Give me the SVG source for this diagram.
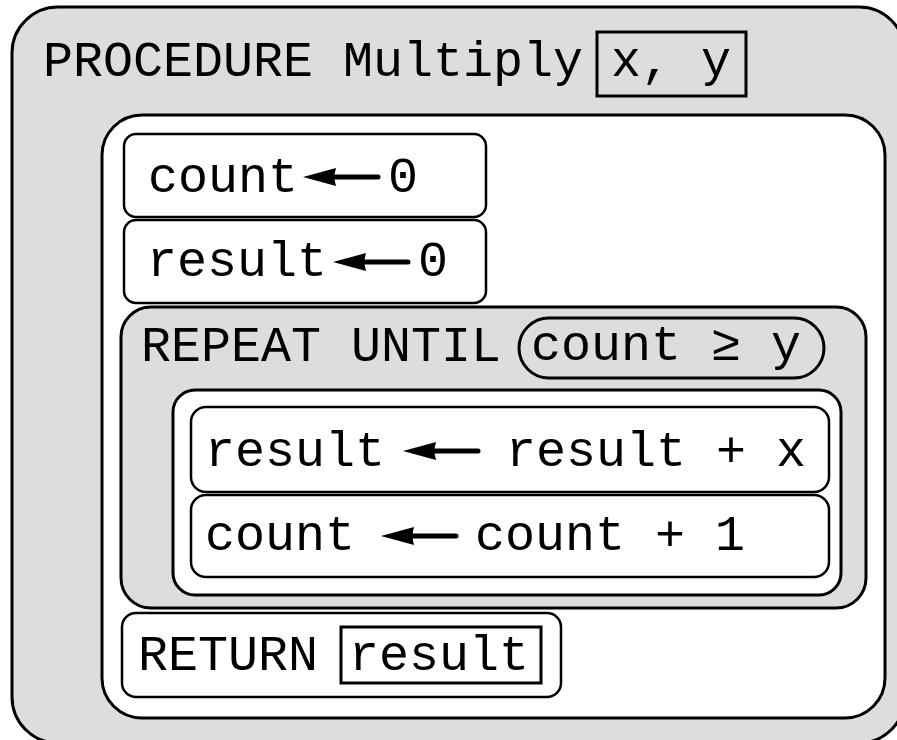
<svg xmlns="http://www.w3.org/2000/svg" width="897" height="740" viewBox="0 0 897 740">
<style>
.g{fill:#dddddd;stroke:#000;stroke-width:3}
.w{fill:#fff;stroke:#000;stroke-width:3}
.s{fill:#fff;stroke:#000;stroke-width:2.5}
.b{fill:none;stroke:#000;stroke-width:3}
text{font-family:"Liberation Mono","DejaVu Sans Mono",monospace;font-size:50px;fill:#000}
.sh{stroke:#000;stroke-width:5;stroke-linecap:round;fill:none}
</style>
<defs>
<g id="arr">
<line class="sh" x1="28" y1="0" x2="75" y2="0"/>
<polygon points="0,0 33,-9 31,0 33,9" fill="#000"/>
</g>
</defs>
<g id="procedure">
<rect class="g" x="12" y="7" width="893" height="736" rx="46"/>
<text x="43" y="76">PROCEDURE Multiply</text>
<rect class="b" x="597" y="32" width="149" height="64"/>
<text x="611" y="76">x, y</text>
</g>
<g id="body">
<rect class="w" x="102" y="115" width="783" height="603" rx="40"/>
</g>
<g id="assign-count">
<rect class="s" x="124" y="134" width="362" height="83" rx="12"/>
<text x="148" y="192">count</text>
<use href="#arr" x="303" y="177"/>
<text x="388" y="192">0</text>
</g>
<g id="assign-result">
<rect class="s" x="124" y="220" width="362" height="83" rx="12"/>
<text x="147" y="276">result</text>
<use href="#arr" x="333" y="262"/>
<text x="418" y="276">0</text>
</g>
<g id="repeat">
<rect class="g" x="121" y="307" width="745" height="301" rx="30"/>
<text x="141" y="361">REPEAT UNTIL</text>
<rect class="b" x="519" y="318" width="305" height="60" rx="30"/>
<text x="531" y="360">count ≥ y</text>
</g>
<g id="repeat-body">
<rect class="w" x="173" y="390" width="668" height="205" rx="22"/>
</g>
<g id="update-result">
<rect class="s" x="191" y="407" width="638" height="85" rx="15"/>
<text x="205" y="466">result</text>
<use href="#arr" x="403" y="451"/>
<text x="506" y="466">result + x</text>
</g>
<g id="update-count">
<rect class="s" x="191" y="495" width="638" height="82" rx="15"/>
<text x="205" y="550">count</text>
<use href="#arr" x="381" y="536"/>
<text x="475" y="550">count + 1</text>
</g>
<g id="return">
<rect class="s" x="122" y="613" width="439" height="84" rx="14"/>
<text x="138" y="670">RETURN</text>
<rect class="b" x="341" y="627" width="200" height="56"/>
<text x="349" y="670">result</text>
</g>
<g id="connectors"/>
</svg>
